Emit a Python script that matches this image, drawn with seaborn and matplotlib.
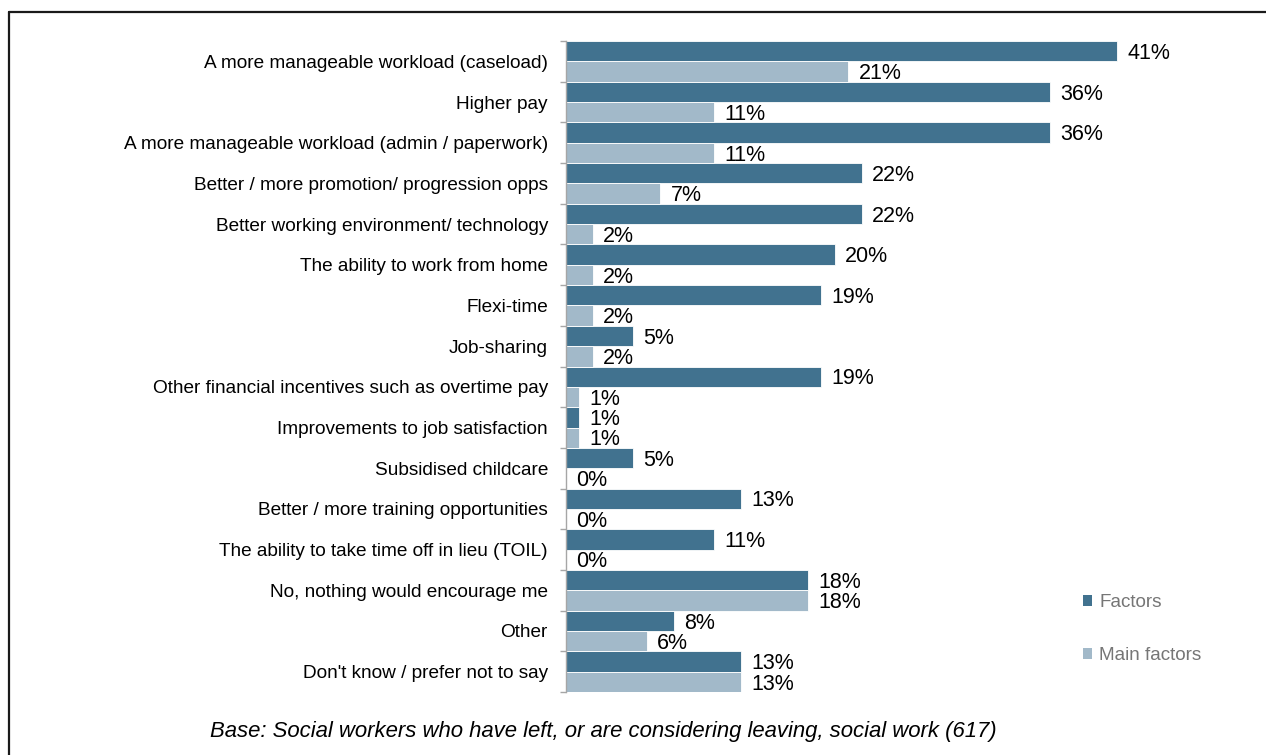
import matplotlib
matplotlib.use("Agg")
import matplotlib.pyplot as plt
from matplotlib.lines import Line2D
from matplotlib.patches import Patch
import seaborn as sns
import pandas as pd

categories = [
    "A more manageable workload (caseload)",
    "Higher pay",
    "A more manageable workload (admin / paperwork)",
    "Better / more promotion/ progression opps",
    "Better working environment/ technology",
    "The ability to work from home",
    "Flexi-time",
    "Job-sharing",
    "Other financial incentives such as overtime pay",
    "Improvements to job satisfaction",
    "Subsidised childcare",
    "Better / more training opportunities",
    "The ability to take time off in lieu (TOIL)",
    "No, nothing would encourage me",
    "Other",
    "Don't know / prefer not to say",
]
factors = [41, 36, 36, 22, 22, 20, 19, 5, 19, 1, 5, 13, 11, 18, 8, 13]
main_factors = [21, 11, 11, 7, 2, 2, 2, 2, 1, 1, 0, 0, 0, 18, 6, 13]
series_names = ["Factors", "Main factors"]
colors = ["#41728F", "#A2B9C9"]
footer = "Base: Social workers who have left, or are considering leaving, social work (617)"

df = pd.DataFrame({
    "category": categories * 2,
    "value": factors + main_factors,
    "series": [series_names[0]] * len(categories) + [series_names[1]] * len(categories),
})

sns.set_theme(style="white")
plt.rcParams["font.family"] = ["Liberation Sans", "DejaVu Sans"]

W, H = 1266, 755
fig = plt.figure(figsize=(W / 100, H / 100), dpi=100)
ax = fig.add_axes([566 / W, 1 - 692 / H, (1238 - 566) / W, (692 - 41) / H])

sns.barplot(data=df, y="category", x="value", hue="series", orient="h",
            palette=colors, width=1.0, edgecolor="white", linewidth=0.6,
            ax=ax, legend=False, saturation=1)

for cont in ax.containers:
    anns = ax.bar_label(cont, labels=[f"{v:.0f}%" for v in cont.datavalues],
                        padding=7.5, fontsize=15.5, color="black")
    for a in anns:
        a.xyann = (7.5, -1.6)

ax.set_xlim(0, 50)
ax.set_ylim(len(categories) - 0.5, -0.5)
ax.set_xlabel("")
ax.set_ylabel("")
ax.set_xticks([])
ax.tick_params(axis="y", which="major", length=0, pad=13, labelsize=13.7, labelcolor="black")
ax.set_yticks([i - 0.5 for i in range(len(categories) + 1)], minor=True)
ax.tick_params(axis="y", which="minor", length=4, width=1, color="#a6a6a6", left=True)
for s in ["top", "right", "bottom"]:
    ax.spines[s].set_visible(False)
ax.spines["left"].set_color("#a6a6a6")
ax.spines["left"].set_linewidth(1)

handles = [Patch(facecolor=c, edgecolor="none") for c in colors]
leg = fig.legend(handles, series_names, loc="center left",
                 bbox_to_anchor=(1066 / W, 1 - 629 / H), frameon=False,
                 fontsize=13.6, handlelength=0.5, handleheight=0.5,
                 handletextpad=0.35, labelspacing=1.9)
for t in leg.get_texts():
    t.set_color("#767676")

fig.text(603 / W, 1 - 731 / H, footer, ha="center", va="center",
         fontsize=15.9, style="italic", color="black")

fig.add_artist(Line2D([9 / W, 9 / W], [0, 1 - 12 / H], color="#1a1a1a", lw=1.6,
                      transform=fig.transFigure))
fig.add_artist(Line2D([9 / W, 1], [1 - 12 / H, 1 - 12 / H], color="#1a1a1a", lw=1.6,
                      transform=fig.transFigure))

fig.savefig("out.png", dpi=100)
